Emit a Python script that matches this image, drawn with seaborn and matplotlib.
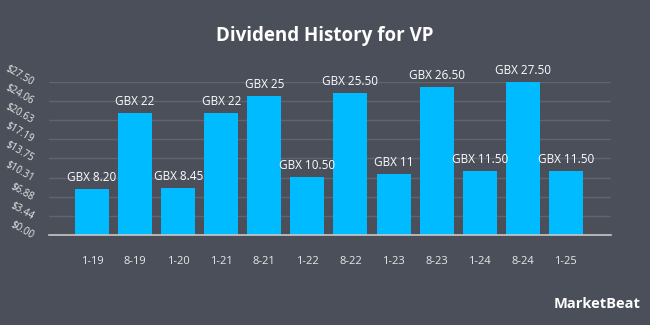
import matplotlib
matplotlib.use("Agg")
import matplotlib.pyplot as plt
import seaborn as sns
import pandas as pd

categories = ["1-19", "8-19", "1-20", "1-21", "8-21", "1-22", "8-22", "1-23", "8-23", "1-24", "8-24", "1-25"]
values = [8.20, 22, 8.45, 22, 25, 10.50, 25.50, 11, 26.50, 11.50, 27.50, 11.50]
bar_labels = ["GBX 8.20", "GBX 22", "GBX 8.45", "GBX 22", "GBX 25", "GBX 10.50", "GBX 25.50",
              "GBX 11", "GBX 26.50", "GBX 11.50", "GBX 27.50", "GBX 11.50"]
ytick_values = [0, 3.44, 6.88, 10.31, 13.75, 17.19, 20.63, 24.06, 27.50]
ytick_labels = ["$0.00", "$3.44", "$6.88", "$10.31", "$13.75", "$17.19", "$20.63", "$24.06", "$27.50"]

BG = "#4a4f59"
BAR = "#00bbff"
TXT = "#ffffff"
GRID = "#5f646e"

sns.set_theme(style="dark")
plt.rcParams["font.family"] = ["Open Sans", "DejaVu Sans"]

df = pd.DataFrame({"date": categories, "value": values})

fig = plt.figure(figsize=(6.5, 3.25), dpi=100, facecolor=BG)
ax = fig.add_axes([0.0754, 0.277, 0.8646, 0.471])
ax.set_facecolor(BG)

sns.barplot(data=df, x="date", y="value", color=BAR, width=0.79, saturation=1,
            linewidth=0, edgecolor="none", ax=ax, zorder=3)

for i, (v, lab) in enumerate(zip(values, bar_labels)):
    ax.text(i, v + 0.9, lab, ha="center", va="bottom", color=TXT, fontsize=8.5, clip_on=False)

ax.set_xlim(-1.0, 12.05)
ax.set_ylim(0, 27.5)
ax.set_yticks(ytick_values)
ax.set_yticklabels(ytick_labels, rotation=-30, ha="right", rotation_mode="anchor",
                   color="#e8e8e8", fontsize=7)
ax.tick_params(axis="y", length=0, pad=11)
ax.tick_params(axis="x", length=0, pad=15, colors="#e8e8e8", labelsize=8)
ax.set_xlabel("")
ax.set_ylabel("")
ax.grid(axis="y", color=GRID, linewidth=1, zorder=0)
ax.grid(axis="x", visible=False)
for s in ["top", "right", "left"]:
    ax.spines[s].set_visible(False)
ax.spines["bottom"].set_color("#c8c8c8")
ax.spines["bottom"].set_linewidth(1.2)
ax.spines["bottom"].set_zorder(4)

fig.text(0.5, 0.89, "Dividend History for VP", ha="center", va="center",
         color=TXT, fontsize=13.5, fontweight="bold")
fig.text(0.985, 0.065, "MarketBeat", ha="right", va="center", color=TXT,
         fontsize=10.5, fontweight="bold")

fig.savefig("out.png", dpi=100, facecolor=BG)
